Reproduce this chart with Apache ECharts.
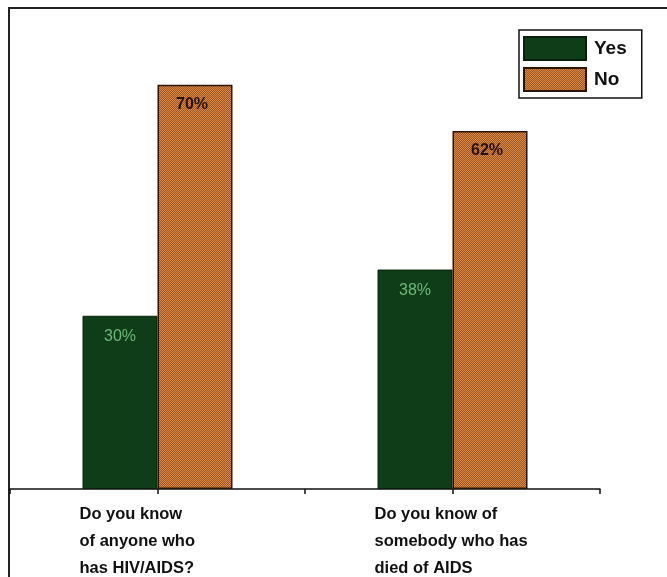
<!DOCTYPE html>
<html>
<head>
<meta charset="utf-8">
<script src="https://cdn.jsdelivr.net/npm/echarts@6/dist/echarts.min.js"></script>
<style>
html,body{margin:0;padding:0;background:#fff;}
#chart{width:667px;height:577px;}
</style>
</head>
<body>
<div id="chart"></div>
<script>
var categories = [
  "Do you know\nof anyone who\nhas HIV/AIDS?",
  "Do you know of\nsomebody who has\ndied of AIDS"
];
var seriesNames = ["Yes", "No"];
var yesValues = [30, 38];
var noValues = [70, 62];

function makePattern() {
  var c = document.createElement('canvas');
  c.width = 2; c.height = 2;
  var ctx = c.getContext('2d');
  ctx.fillStyle = '#da8842'; ctx.fillRect(0,0,2,2);
  ctx.fillStyle = '#9e5626'; ctx.fillRect(1,0,1,1); ctx.fillRect(0,1,1,1);
  return c;
}

var chart = echarts.init(document.getElementById('chart'), null, {renderer:'canvas'});
var fontFam = '"Liberation Sans", Arial, sans-serif';
var option = {
  animation: false,
  backgroundColor: '#fff',
  grid: {left: 10, right: 67, top: 27, bottom: 86, containLabel: false},
  legend: {
    orient: 'vertical',
    left: 519, top: 30,
    padding: [6, 15, 6, 4],
    itemWidth: 62, itemHeight: 23, itemGap: 6,
    borderColor: '#111', borderWidth: 1.5,
    backgroundColor: '#fff',
    icon: 'rect',
    textStyle: {fontFamily: fontFam, fontWeight: 'bold', fontSize: 19, color: '#111', padding: [0,0,0,3]},
    data: seriesNames
  },
  xAxis: [{
    type: 'category',
    data: categories,
    boundaryGap: true,
    axisLine: {show: true, lineStyle: {color: '#111', width: 1.5}},
    axisTick: {show: false},
    axisLabel: {
      interval: 0,
      margin: 12,
      align: 'center',
      formatter: function (v) {
        return v.split('\n').map(function (l) { return '{a|' + l + '}'; }).join('\n');
      },
      rich: {a: {width: 156, align: 'left', fontFamily: fontFam, fontWeight: 'bold', fontSize: 16.5, lineHeight: 27, color: '#111'}}
    }
  }, {
    type: 'category',
    position: 'bottom',
    data: ['a','b','c','d'],
    boundaryGap: true,
    axisLine: {show: false},
    axisLabel: {show: false},
    axisTick: {show: true, interval: 0, length: 5, inside: false, lineStyle: {color: '#111', width: 1.5}}
  }],
  yAxis: {
    type: 'value', min: 0, max: 80, show: false, splitLine: {show: false}
  },
  series: [{
    name: seriesNames[0],
    type: 'bar',
    data: yesValues,
    barWidth: 75,
    barGap: '0%',
    itemStyle: {color: '#0f3d17', borderColor: '#0a200c', borderWidth: 1},
    label: {
      show: true, position: 'insideTop', distance: 13,
      formatter: '{c}%', color: '#6db77a', fontSize: 16,
      fontFamily: fontFam
    }
  }, {
    name: seriesNames[1],
    type: 'bar',
    data: noValues,
    barWidth: 75,
    barGap: '0%',
    itemStyle: {color: {image: makePattern(), repeat: 'repeat'}, borderColor: '#2a1505', borderWidth: 1.5},
    label: {
      show: true, position: 'insideTop', distance: 12, offset: [-3, 0],
      formatter: '{c}%', color: '#2a1200', fontSize: 16, fontWeight: 'bold',
      fontFamily: fontFam
    }
  }],
  graphic: [{
    type: 'rect',
    shape: {x: 9, y: 8, width: 720, height: 620},
    style: {fill: 'none', stroke: '#222', lineWidth: 2},
    silent: true
  }]
};
chart.setOption(option);
</script>
</body>
</html>
